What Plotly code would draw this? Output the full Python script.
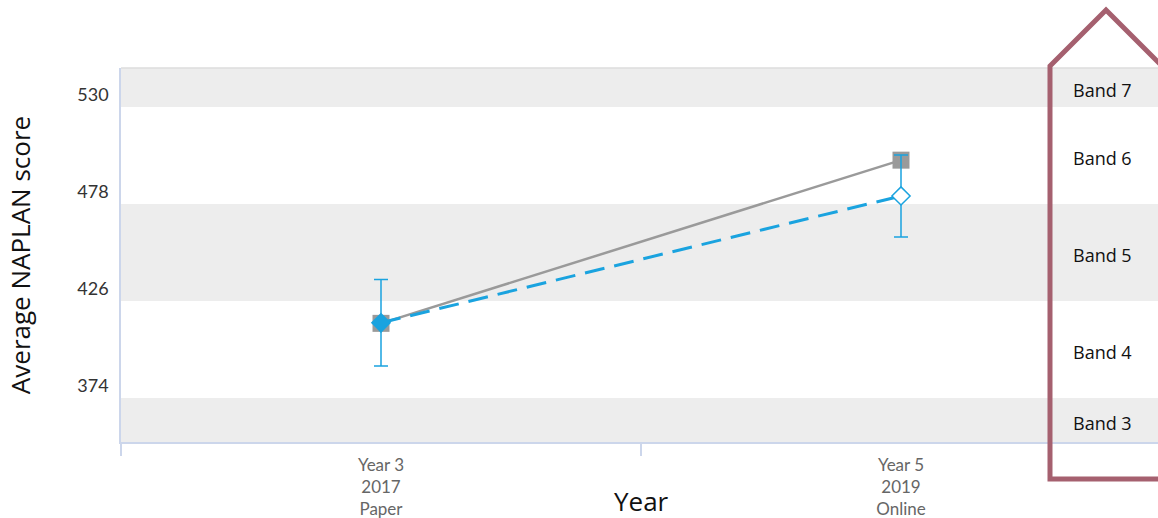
import plotly.graph_objects as go

# ---- data ----
categories = ["Year 3<br>2017<br>Paper", "Year 5<br>2019<br>Online"]
school_avg = [414.0, 501.5]          # grey squares, solid line
student_avg = [414.3, 482.3]         # blue diamonds, dashed line
student_err = [23.2, 22.0]
y_ticks = [374, 426, 478, 530]
band_names = ["Band 3", "Band 4", "Band 5", "Band 6", "Band 7"]
band_lower = [322, 374, 426, 478, 530]
band_upper = [374, 426, 478, 530, 582]
band_shaded = [True, False, True, False, True]

# ---- layout geometry ----
W, H = 1158, 518
ML, MR, MT, MB = 121, 0, 68, 76
PW, PH = W - ML - MR, H - MT - MB
Y_RANGE = [350.4, 550.9]
X_RANGE = [-0.5, -0.5 + PW / 520.0]

def px_x(p):
    return (p - ML) / PW

def px_y(p):
    return (H - MB - p) / PH

GREY = "#9a9a9a"
BLUE = "#1aa3df"
MAROON = "#a5606f"

fig = go.Figure()

fig.add_trace(go.Scatter(
    x=categories, y=school_avg, mode="lines+markers",
    line=dict(color=GREY, width=2.5),
    marker=dict(symbol="square", size=17, color=GREY),
    showlegend=False, hoverinfo="skip"))

fig.add_trace(go.Scatter(
    x=categories, y=student_avg, mode="lines+markers",
    line=dict(color=BLUE, width=3, dash="20px,10px"),
    marker=dict(symbol="diamond", size=14, color=[BLUE, "white"],
                line=dict(color=BLUE, width=1.5)),
    error_y=dict(type="data", array=student_err, visible=True,
                 color=BLUE, thickness=1.5, width=7),
    showlegend=False, hoverinfo="skip"))

shapes = []
annotations = []
for name, lo, hi, shaded in zip(band_names, band_lower, band_upper, band_shaded):
    if shaded:
        shapes.append(dict(type="rect", xref="paper", yref="y", x0=0, x1=1,
                           y0=lo, y1=hi, fillcolor="#ededed", line=dict(width=0),
                           layer="below"))
    mid = (max(lo, Y_RANGE[0]) + min(hi, Y_RANGE[1])) / 2
    annotations.append(dict(text=name, xref="paper", yref="y",
                            x=px_x(1102), y=mid, yshift=-3, showarrow=False,
                            xanchor="center", yanchor="middle",
                            font=dict(family="Open Sans", size=18, color="#111111")))

# top border line
shapes.append(dict(type="line", xref="paper", yref="paper", x0=0, x1=1, y0=1, y1=1,
                   line=dict(color="#dddddd", width=1.5), layer="above"))

# maroon highlight outline
pts = [(1175, 479), (1050, 479), (1050, 66), (1106, 10), (1175, 79)]
path = "M " + " L ".join(f"{px_x(a):.5f},{px_y(b):.5f}" for a, b in pts)
shapes.append(dict(type="path", xref="paper", yref="paper", path=path,
                   line=dict(color=MAROON, width=5), layer="above"))

annotations.append(dict(text="Year", xref="paper", yref="paper",
                        x=px_x(641), y=px_y(501), showarrow=False,
                        xanchor="center", yanchor="middle",
                        font=dict(family="Open Sans", size=26, color="#111111")))

fig.update_layout(
    width=W, height=H,
    margin=dict(l=ML, r=MR, t=MT, b=MB, pad=0),
    paper_bgcolor="white", plot_bgcolor="white",
    shapes=shapes, annotations=annotations,
    xaxis=dict(type="category", range=X_RANGE, tickson="boundaries",
               ticks="outside", ticklen=12, tickcolor="#ccd6eb", tickwidth=1.5,
               showline=True, linecolor="#ccd6eb", linewidth=1.5,
               showgrid=False, zeroline=False, ticklabelstandoff=7,
               tickfont=dict(family="Lato", size=17, color="#666666")),
    yaxis=dict(range=Y_RANGE, tickvals=y_ticks, ticktext=[str(v) for v in y_ticks],
               ticks="", showline=True, linecolor="#ccd6eb", linewidth=1.5,
               showgrid=False, zeroline=False,
               ticklabelshift=-12, ticklabelstandoff=7,
               tickfont=dict(family="Lato", size=18, color="#333333"),
               title=dict(text="Average NAPLAN score", standoff=39,
                          font=dict(family="Open Sans", size=26, color="#111111"))),
)

fig.write_html("out.html", config={"displayModeBar": False},
               post_script="document.body.style.margin='0';document.body.style.overflow='hidden';")
